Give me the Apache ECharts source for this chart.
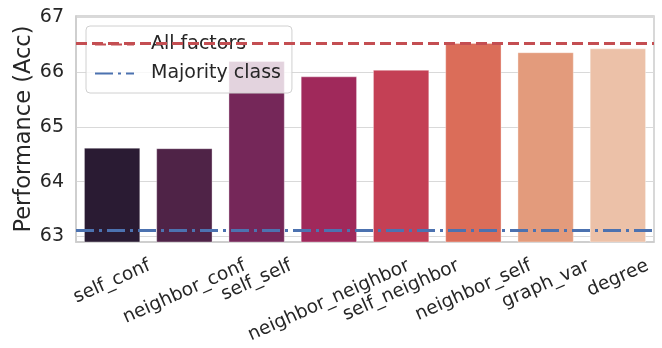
<!DOCTYPE html>
<html>
<head>
<meta charset="utf-8">
<script src="https://cdn.jsdelivr.net/npm/echarts@6/dist/echarts.min.js"></script>
<style>html,body{margin:0;padding:0;background:#fff}#c{width:662px;height:348px}</style>
</head>
<body>
<div id="c"></div>
<script>
const categories = ['self_conf','neighbor_conf','self_self','neighbor_neighbor','self_neighbor','neighbor_self','graph_var','degree'];
const performance = [64.62, 64.61, 66.20, 65.92, 66.04, 66.53, 66.36, 66.43];
const barColors = ['#2a1b33','#4f2347','#752759','#a0295b','#c44055','#db6d59','#e39b7c','#ecc1a8'];
const allFactors = 66.53;
const majorityClass = 63.12;
const yTicks = [63, 64, 65, 66, 67];

const FONT = 'DejaVu Sans';
const FS = 19;
const XFS = 18.6;
const ROT_DEG = 24;
const ROT = ROT_DEG * Math.PI / 180;
const cv = document.createElement('canvas').getContext('2d');
cv.font = XFS + 'px "' + FONT + '"';
// matplotlib-style rotated labels: rotated bbox top aligned, centered on tick
const richStyles = {};
categories.forEach(function (c, i) {
  const w = cv.measureText(c).width;
  const D = w * Math.sin(ROT) / 2;
  richStyles['r' + i] = {
    fontSize: XFS, fontFamily: FONT, color: '#262626',
    padding: [2 * D * Math.cos(ROT), 2 * D * Math.sin(ROT), 0, 0]
  };
});
const xData = categories.map(function (c) {
  return { value: c, textStyle: { align: 'center', verticalAlign: 'middle' } };
});

const chart = echarts.init(document.getElementById('c'), null, { renderer: 'canvas' });
chart.setOption({
  animation: false,
  textStyle: { fontFamily: FONT },
  grid: { left: 76, right: 8, top: 16, bottom: 106, containLabel: false },
  legend: {
    orient: 'vertical', left: 86, top: 26,
    padding: [9, 11, 10, 8], itemGap: 10, itemWidth: 39, itemHeight: 14,
    backgroundColor: 'rgba(255,255,255,0.8)', borderColor: '#d0d0d0', borderWidth: 1, borderRadius: 4,
    itemStyle: { opacity: 0 },
    textStyle: { fontSize: FS, color: '#262626', fontFamily: FONT, padding: [0, 0, 0, 12] },
    data: ['All factors', 'Majority class']
  },
  xAxis: {
    type: 'category', data: xData,
    axisLine: { show: true, lineStyle: { color: '#cccccc', width: 1.5 } },
    axisTick: { show: false },
    splitLine: { show: false },
    axisLabel: {
      interval: 0, rotate: ROT_DEG, margin: 23,
      hideOverlap: false,
      fontSize: XFS, color: '#262626', fontFamily: FONT,
      formatter: function (v, i) { return '{r' + i + '|' + v + '}'; },
      rich: richStyles
    }
  },
  yAxis: {
    type: 'value', min: 62.9, max: 67.02,
    splitNumber: 4,
    name: 'Performance (Acc)', nameLocation: 'middle', nameGap: 40, nameRotate: 90,
    nameMoveOverlap: false,
    nameTextStyle: { fontSize: 22.5, color: '#262626', fontFamily: FONT },
    axisLine: { show: true, lineStyle: { color: '#cccccc', width: 1.5 } },
    axisTick: { show: false },
    splitLine: { show: true, lineStyle: { color: '#d9d9d9', width: 1.2 } },
    axisLabel: {
      margin: 12, fontSize: FS, color: '#262626', fontFamily: FONT,
      formatter: function (v) {
        const r = Math.round(v);
        return (Math.abs(v - r) < 1e-6 && yTicks.indexOf(r) >= 0) ? String(r) : '';
      }
    }
  },
  series: [
    {
      type: 'bar', name: 'perf', data: performance.map(function (v, i) {
        return { value: v, itemStyle: { color: barColors[i] } };
      }),
      barCategoryGap: '22%',
      itemStyle: { borderColor: 'rgba(255,255,255,0.35)', borderWidth: 1 },
      z: 2
    },
    {
      type: 'line', name: 'All factors', data: [], symbol: 'none', z: 4,
      itemStyle: { color: '#c44e52' },
      lineStyle: { color: '#c44e52', width: 3, type: [11, 5] },
      markLine: {
        silent: true, symbol: 'none', label: { show: false },
        lineStyle: { color: '#c44e52', width: 3, type: [11, 5] },
        data: [{ yAxis: allFactors }]
      }
    },
    {
      type: 'line', name: 'Majority class', data: [], symbol: 'none', z: 4,
      itemStyle: { color: '#4c72b0' },
      lineStyle: { color: '#4c72b0', width: 3, type: [18, 5, 3, 5] },
      markLine: {
        silent: true, symbol: 'none', label: { show: false },
        lineStyle: { color: '#4c72b0', width: 3, type: [18, 5, 3, 5] },
        data: [{ yAxis: majorityClass }]
      }
    }
  ],
  graphic: []
});
const gridRect = chart.getModel().getComponent('grid').coordinateSystem.getRect();
chart.setOption({
  graphic: [{
    type: 'rect', silent: true, z: 0,
    shape: { x: gridRect.x, y: gridRect.y, width: gridRect.width, height: gridRect.height },
    style: { fill: 'none', stroke: '#cccccc', lineWidth: 1.5 }
  }]
});
</script>
</body>
</html>
